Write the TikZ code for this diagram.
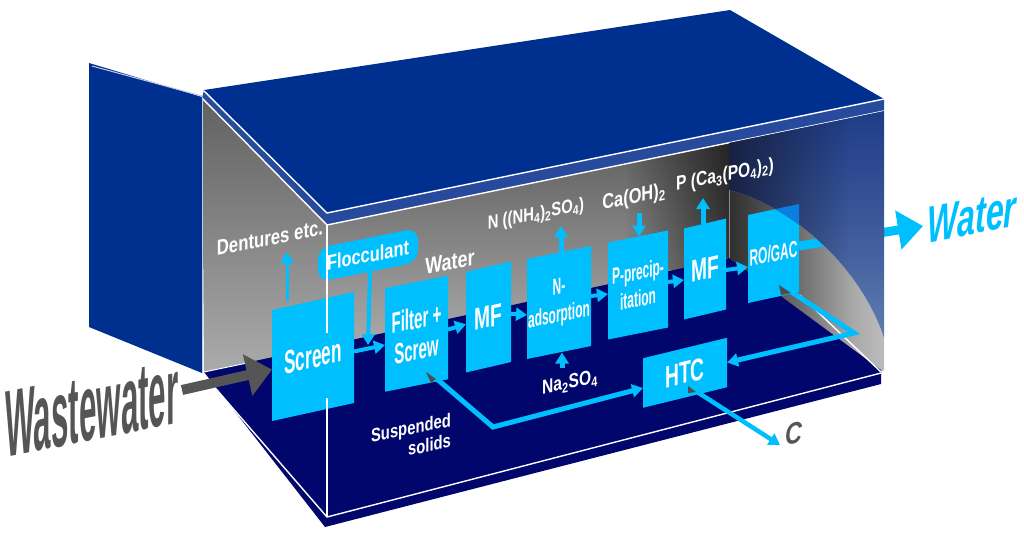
\documentclass[tikz,border=0pt]{standalone}
\usepackage{fontspec}
\usetikzlibrary{arrows.meta,fadings,calc}
\setmainfont{Liberation Sans}
\newfontfamily\fnar[FakeStretch=0.52]{Liberation Sans}
\newfontfamily\fmed[FakeStretch=0.62]{Liberation Sans}
\newfontfamily\flab[FakeStretch=0.78]{Liberation Sans}
\newfontfamily\fhuge[FakeStretch=0.33]{Liberation Sans}
\newcommand{\fsl}[2]{\fontsize{#1}{#2}\selectfont\bfseries}
\newcommand{\fsz}[1]{\fsl{#1}{#1}}
\definecolor{roof}{HTML}{00308F}
\definecolor{band}{HTML}{274A9C}
\definecolor{navy}{HTML}{00066B}
\definecolor{cy}{HTML}{00BFFF}
\definecolor{ww}{HTML}{555555}
\definecolor{rocorner}{HTML}{0A7FE0}
\definecolor{wallTop}{HTML}{1F3C88}
\definecolor{wallBot}{HTML}{5F7CB0}
\definecolor{wallDark}{HTML}{161E3C}
\pgfdeclareverticalshading{leftgrey}{100bp}{color(0bp)=(black!33);color(25bp)=(black!33);color(75bp)=(black!62);color(100bp)=(black!62)}
\pgfdeclarehorizontalshading{rightgrey}{100bp}{color(0bp)=(black!82);color(25bp)=(black!82);color(47bp)=(black!58);color(65bp)=(black!34);color(75bp)=(black!26);color(100bp)=(black!26)}
\tikzfading[name=darkright,left color=transparent!100,right color=transparent!38]
\tikzfading[name=darkleft,left color=transparent!8,right color=transparent!100]
\tikzset{
  boxn/.style n args={3}{fill=cy,text=white,inner sep=0pt,outer sep=0pt,align=center,
    minimum width=#1pt,minimum height=#2pt,yslant=#3,transform shape},
  lbl/.style={text=white,inner sep=0pt,align=center,yslant=0.2,transform shape},
  flow/.style={draw=cy,line width=#1,-{Triangle[length=11pt,width=13pt]}},
  flow/.default=4pt,
  edge/.style={draw=white,line width=1.4pt},
  shadow/.style={fill=black!70}
}
\begin{document}
\begin{tikzpicture}[x=1pt,y=-1pt]
\useasboundingbox (0,0) rectangle (1024,542);
% roof and left wall
\fill[roof] (204,90) -- (730,10) -- (884,99) -- (327,213) -- cycle;
\fill[roof] (89,63) -- (202,97) -- (202,373) -- (89,327) -- cycle;
\draw[white!75!roof,line width=1pt] (92,66) -- (202,96);
% grey walls
\path[shading=leftgrey] (202,98) -- (327,225) -- (327,348) -- (204,372) -- cycle;
\path[shading=leftgrey] (327,225) -- (729,143) -- (729,258) -- (327,348) -- cycle;
\begin{scope}
  \clip (327,225) -- (729,143) -- (729,258) -- (327,348) -- cycle;
  \fill[black,path fading=darkright] (625,130) rectangle (729,270);
\end{scope}
\path[shading=rightgrey] (729,190) .. controls (790,205) and (860,265) .. (884,338) -- (884,370) -- (881,372) -- (729,258) -- cycle;
% band
\fill[band] (204,90) -- (327,213) -- (884,99) -- (884,111) -- (327,225) -- (202,98) -- cycle;
% floor
\fill[navy] (204,372) -- (729,258) -- (881,370) -- (881,384) -- (325,527) -- cycle;
\draw[edge] (204,91) -- (327,213) -- (884,99);
\draw[edge] (202,98) -- (327,225) -- (884,111);
\draw[white!75!roof,line width=1pt] (202,97) -- (202,373);
\draw[edge] (217,390) -- (327,517) -- (881,373);
\draw[edge,line width=1pt] (204,372) -- (247,363);
\draw[edge,line width=1pt] (212,383) -- (247,376);
\draw[edge] (800,295) -- (881,372);
\draw[black!45,line width=0.8pt] (729,143) -- (729,258);
% process boxes
\node[boxn={82}{111}{0.22},font=\fnar\fsz{33}] (screen) at (313,356.5) {Screen};
\node[boxn={63}{103.5}{0.198},font=\fnar\fsl{29}{31}] (filter) at (416.5,333.75) {Filter +\\Screw};
\node[boxn={45}{100.5}{0.233},font=\fmed\fsz{31}] (mfa) at (488.5,317) {MF};
\node[boxn={64}{100}{0.203},font=\fnar\fsl{23}{28}] (nads) at (559,302.5) {N-\\adsorption};
\node[boxn={60}{97}{0.2},font=\fnar\fsl{23}{27}] (pprec) at (638,285) {P-precip-\\itation};
\node[boxn={42}{91}{0.238},font=\fmed\fsz{31}] (mfb) at (705,269) {MF};
\node[boxn={51}{88}{0.216},font=\fnar\fsz{23}] (ro) at (773.5,253.5) {RO/GAC};
\node[boxn={84}{49.5}{0.244},font=\fmed\fsz{31}] (htc) at (685,372.75) {HTC};
\node[boxn={100}{34}{0.2},rounded corners=12pt,font=\flab\fsz{21}] (floc) at (368,255) {Flocculant};
\draw[white,line width=1.2pt] (327,225) -- (327,333);
\draw[white,line width=1.2pt] (327,398) -- (327,517);
% free connector ends
\coordinate (dentTip) at (287,252);
\coordinate (nTip) at (561,226);
\coordinate (caTop) at (639,213);
\coordinate (pTip) at (703,198);
\coordinate (naBot) at (562,368);
\coordinate (waterTip) at (923,226);
\coordinate (cTip) at (780,445);
\coordinate (wwStart) at (182,390);
\coordinate (bendA) at (493,427);
\coordinate (bendB) at (854,333);
% connectors
\draw[flow=3pt] ([xshift=-26pt]screen.north) -- (dentTip);
\draw[flow=4pt] ([xshift=2pt]floc.south) -- ([xshift=0pt,yshift=-73pt]floc.south);
\draw[flow=4pt] ([yshift=-4pt]screen.east) -- ([yshift=-5pt]filter.west);
\draw[flow=4pt] ([yshift=-2pt]filter.east) -- ([yshift=-2pt]mfa.west);
\draw[flow=4pt] ([yshift=-2pt]mfa.east) -- ([yshift=-6pt]nads.west);
\draw[flow=4pt] (nads.east) -- ([yshift=-3pt]pprec.west);
\draw[flow=4pt] ([yshift=-3pt]pprec.east) -- ([yshift=-6pt]mfb.west);
\draw[flow=4pt] ([yshift=-6pt]mfb.east) -- ([yshift=-8pt]ro.west);
\draw[flow=5pt] ([xshift=2pt]nads.north) -- (nTip);
\draw[flow=5pt] (caTop) -- ([xshift=1pt]pprec.north);
\draw[flow=5pt] ([xshift=-2pt]mfb.north) -- (pTip);
\draw[flow=5pt] (naBot) -- ([xshift=3pt]nads.south);
\draw[flow=5pt] ([shift={(12pt,-38pt)}]filter.center) -- (bendA) -- ([yshift=-5pt]htc.west);
\draw[flow=5pt] ([shift={(5pt,-30pt)}]ro.center) -- (bendB) -- (htc.east);
\draw[flow=4.5pt] ([shift={(4pt,-14pt)}]htc.center) -- (cTip);
\draw[cy,line width=9pt,-{Triangle[length=25pt,width=38pt]}] ([yshift=2pt]ro.east) -- (waterTip);
\draw[ww,line width=10pt,-{Triangle[length=25pt,width=41pt]}] (wwStart) -- ([yshift=-4pt]screen.west);
% small shadows at the outlets
\fill[shadow] (426,372) -- (436,379) -- (431,383) -- cycle;
\fill[shadow] (779,285) -- (791,293) -- (781,295) -- cycle;
\fill[shadow] (688,386) -- (696,392) -- (688,393) -- cycle;
% blue right wall over everything behind it
\path[top color=wallTop,bottom color=wallBot,middle color=wallTop!55!wallBot] (729,143) -- (884,111) -- (884,338) .. controls (860,265) and (790,205) .. (729,190) -- cycle;
\begin{scope}
  \clip (729,143) -- (884,111) -- (884,338) .. controls (860,265) and (790,205) .. (729,190) -- cycle;
  \fill[wallDark,path fading=darkleft] (729,105) rectangle (850,345);
  \fill[rocorner] (ro.north west) -- (ro.north east) -- (ro.south east) -- (ro.south west) -- cycle;
\end{scope}
% labels
\node[lbl,font=\flab\fsz{21.5}] (dent) at (270,238) {Dentures etc.};
\node[lbl,font=\flab\fsz{23}] (wlab) at (450,262) {Water};
\node[lbl,font=\flab\fsz{19}] (nlab) at (536,215) {N ((NH\textsubscript{4})\textsubscript{2}SO\textsubscript{4})};
\node[lbl,font=\flab\fsz{21}] (calab) at (634,198) {Ca(OH)\textsubscript{2}};
\node[lbl,font=\flab\fsz{20}] (plab) at (725,176) {P (Ca\textsubscript{3}(PO\textsubscript{4})\textsubscript{2})};
\node[lbl,font=\flab\fsz{20}] (nalab) at (570,383) {Na\textsubscript{2}SO\textsubscript{4}};
\node[lbl,font=\flab\fsl{19}{21},align=right] (sus) at (411,438) {Suspended\\solids};
\node[lbl,text=ww,font=\flab\fsz{30}\itshape] (clab) at (794,433) {C};
\node[lbl,text=cy,font=\fmed\fsz{52}\itshape] (bigwater) at (972,217) {Water};
\node[lbl,text=ww,font=\fhuge\fsz{95}] (waste) at (92,408) {Wastewater};
\end{tikzpicture}
\end{document}
